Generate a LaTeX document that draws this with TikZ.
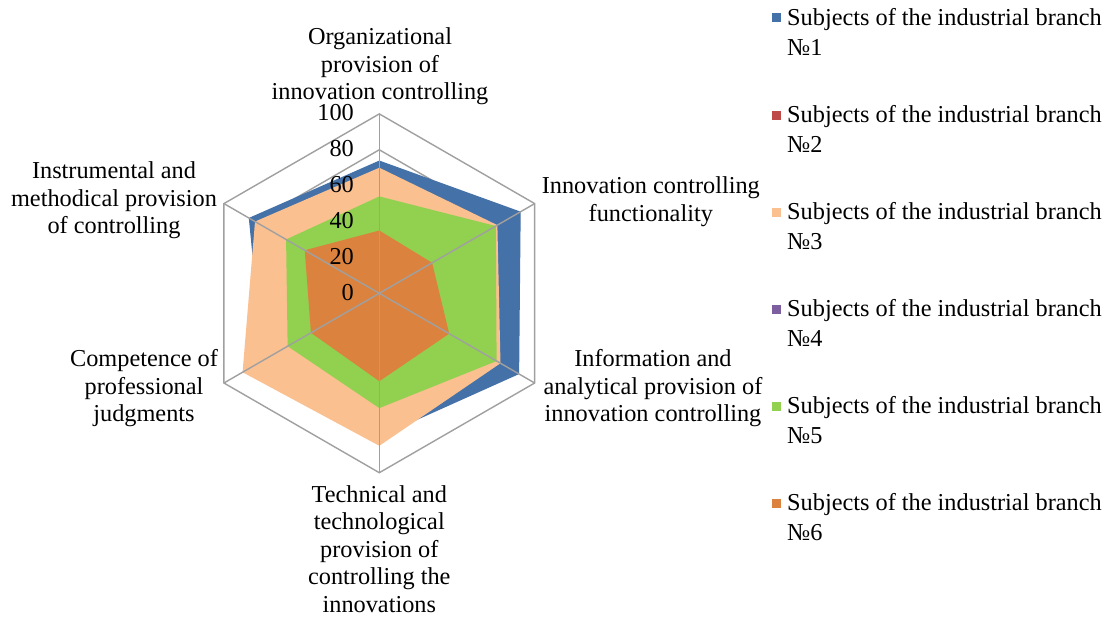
\documentclass[tikz,border=0pt]{standalone}
\usepackage{fontspec}
\IfFontExistsTF{LiberationSerif-Regular.ttf}
  {\setmainfont{LiberationSerif-Regular.ttf}}
  {\setmainfont{Liberation Serif}}
\definecolor{sone}{HTML}{4471A7}
\definecolor{stwo}{HTML}{BE4B48}
\definecolor{sthree}{HTML}{FAC090}
\definecolor{sfour}{HTML}{7D5FA0}
\definecolor{sfive}{HTML}{92D050}
\definecolor{ssix}{HTML}{DB823E}
\definecolor{gridgray}{HTML}{A0A0A0}
\begin{document}
\begin{tikzpicture}[x=1pt,y=-1pt,
  gridline/.style={draw=gridgray,line width=1.4pt,line join=miter},
  spoke/.style={draw=gridgray,line width=1.4pt},
  lab/.style={font=\fontsize{24.3}{27.6}\selectfont,align=center,anchor=north,inner sep=0pt},
  tick/.style={font=\fontsize{24.3}{27.6}\selectfont,anchor=base east,inner sep=0pt},
  legtext/.style={font=\fontsize{24.3}{30}\selectfont,align=left,anchor=north west,inner sep=0pt},
  legmark/.style={rectangle,minimum size=9pt,inner sep=0pt,draw=none}]
\useasboundingbox (0,0) rectangle (1111,618);
\fill[white] (0,0) rectangle (1111,618);
\begin{scope}[shift={(379.3,293.3)},x=1.794pt,y=1.794pt]
  \coordinate (O) at (0,0);
  \foreach \a [count=\k] in {90,30,-30,-90,-150,150}
    \coordinate (A\k) at (\a:100);
  \foreach \v in {20,40,60,80,100}
    \draw[gridline] (90:\v) -- (30:\v) -- (-30:\v) -- (-90:\v) -- (-150:\v) -- (150:\v) -- cycle;
  % series 1
  \fill[sone] (90:74) -- (30:91) -- (-30:90) -- (-90:80) -- (-150:75) -- (150:84) -- cycle;
  % series 3
  \fill[sthree] (90:70) -- (30:76) -- (-30:78) -- (-90:85) -- (-150:88) -- (150:80) -- cycle;
  % series 5
  \fill[sfive] (90:54) -- (30:75) -- (-30:75.5) -- (-90:64) -- (-150:59) -- (150:60) -- cycle;
  % series 6
  \fill[ssix] (90:35) -- (30:34) -- (-30:45) -- (-90:49) -- (-150:44) -- (150:48) -- cycle;
  \foreach \k in {1,...,6}
    \draw[spoke] (O) -- (A\k);
\end{scope}
% tick labels
\foreach \v in {0,20,40,60,80,100}
  \node[tick] (t\v) at (354,{300.3-1.794*\v}) {\v};
% axis labels
\node[lab] (ax1) at (380,27.7) {Organizational\\provision of\\innovation controlling};
\node[lab] (ax2) at (650.8,176.7) {Innovation controlling\\functionality};
\node[lab] (ax3) at (653,349.4) {Information and\\analytical provision of\\innovation controlling};
\node[lab] (ax4) at (379.3,485.1) {Technical and\\technological\\provision of\\controlling the\\innovations};
\node[lab] (ax5) at (144,349.4) {Competence of\\professional\\judgments};
\node[lab] (ax6) at (114,161.7) {Instrumental and\\methodical provision\\of controlling};
% legend
\foreach \i/\c in {1/sone,2/stwo,3/sthree,4/sfour,5/sfive,6/ssix}{
  \node[legmark,fill=\c] (m\i) at (776.2,{25+97*(\i-1)-7}) {};
  \node[legtext] (l\i) at (787,{25+97*(\i-1)-16.6}) {Subjects of the industrial branch\\№\i};
}
\end{tikzpicture}
\end{document}
